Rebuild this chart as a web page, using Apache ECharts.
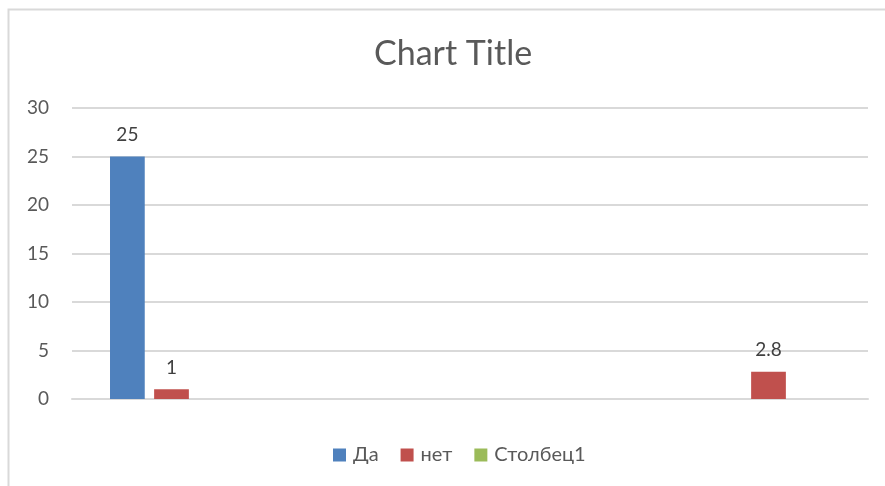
<!DOCTYPE html>
<html>
<head>
<meta charset="utf-8">
<script src="https://cdn.jsdelivr.net/npm/echarts@6/dist/echarts.min.js"></script>
<style>html,body{margin:0;padding:0;background:#fff;}#c{width:885px;height:486px;}</style>
</head>
<body>
<div id="c"></div>
<script>
var categories = ['', ' ', '  ', '   '];
var seriesNames = ['Да', 'нет', 'Столбец1'];
var daValues = [25, null, null, null];
var netValues = [1, null, null, 2.8];
var stolbecValues = [null, null, null, null];
var yTicks = [0, 5, 10, 15, 20, 25, 30];

var FONT = 'Lato, "Open Sans", sans-serif';
var chart = echarts.init(document.getElementById('c'));
var colors = ['#4f81bd', '#c0504d', '#9bbb59'];
var dataSets = [daValues, netValues, stolbecValues];
var series = seriesNames.map(function (n, i) {
  return {
    name: n,
    type: 'bar',
    data: dataSets[i],
    barGap: '27%',
    barCategoryGap: '38.2%',
    itemStyle: { color: colors[i] },
    label: {
      show: true,
      position: 'top',
      distance: 12,
      color: '#404040',
      fontFamily: FONT,
      fontSize: 19
    }
  };
});
chart.setOption({
  animation: false,
  backgroundColor: '#fff',
  graphic: [{
    type: 'rect',
    shape: { x: 8.5, y: 9.5, width: 900, height: 500 },
    style: { fill: 'none', stroke: '#d9d9d9', lineWidth: 2 },
    silent: true
  }],
  title: {
    text: 'Chart Title',
    left: 369,
    top: 32,
    textStyle: { fontFamily: FONT, fontSize: 34, fontWeight: 'normal', color: '#595959' }
  },
  legend: {
    data: seriesNames,
    bottom: 16,
    left: 328,
    itemWidth: 13,
    itemHeight: 13,
    itemGap: 22,
    icon: 'rect',
    textStyle: { fontFamily: FONT, fontSize: 20, color: '#595959', padding: [0, 0, 0, 2] }
  },
  grid: { left: 72, right: 17, top: 108, bottom: 87 },
  xAxis: {
    type: 'category',
    data: categories,
    axisLine: { lineStyle: { color: '#d9d9d9', width: 2 } },
    axisTick: { show: false },
    axisLabel: { show: false }
  },
  yAxis: {
    type: 'value',
    min: yTicks[0],
    max: yTicks[yTicks.length - 1],
    interval: 5,
    axisLine: { show: false },
    axisTick: { show: false },
    splitLine: { lineStyle: { color: '#d9d9d9', width: 2 } },
    axisLabel: { fontFamily: FONT, fontSize: 19, color: '#595959', margin: 23 }
  },
  series: series
});
</script>
</body>
</html>
